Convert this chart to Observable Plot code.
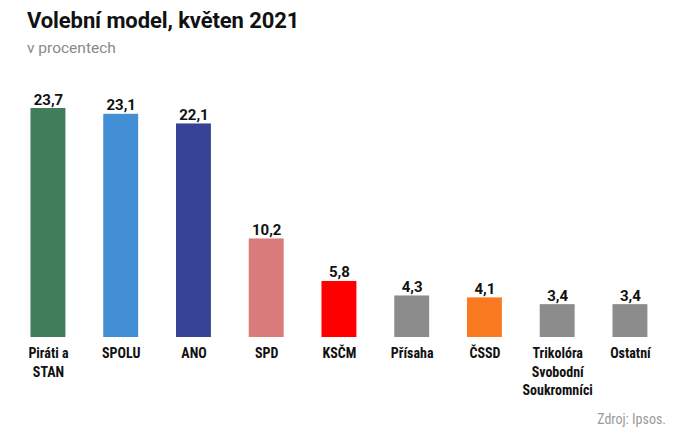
<!DOCTYPE html>
<html>
<head>
<meta charset="utf-8">
<script src="https://cdn.jsdelivr.net/npm/d3@7"></script>
<script src="https://cdn.jsdelivr.net/npm/@observablehq/plot@0.6"></script>
<style>
  html, body { margin: 0; padding: 0; background: #fff; width: 682px; height: 447px; overflow: hidden; }
  #title { position: absolute; left: 27px; top: 8px; font-family: Roboto, "Liberation Sans", sans-serif; font-weight: 700; font-size: 22px; color: #111; letter-spacing: -0.1px; }
  #subtitle { position: absolute; left: 27px; top: 39px; font-family: Roboto, "Liberation Sans", sans-serif; font-size: 15.5px; color: #8a8a8a; }
  #chart { position: absolute; left: 0; top: 62px; }
  #source { position: absolute; right: 16px; top: 411px; font-family: "Roboto Condensed", "Liberation Sans Narrow", "DejaVu Sans Condensed", sans-serif; font-size: 14px; color: #9a9a9a; }
</style>
</head>
<body>
<div id="title">Volební model, květen 2021</div>
<div id="subtitle">v procentech</div>
<div id="chart"></div>
<div id="source">Zdroj: Ipsos.</div>
<script>
const parties = ["Piráti a STAN", "SPOLU", "ANO", "SPD", "KSČM", "Přísaha", "ČSSD", "Trikolóra Svobodní Soukromníci", "Ostatní"];
const tickLabels = ["Piráti a\nSTAN", "SPOLU", "ANO", "SPD", "KSČM", "Přísaha", "ČSSD", "Trikolóra\nSvobodní\nSoukromníci", "Ostatní"];
const values = [23.7, 23.1, 22.1, 10.2, 5.8, 4.3, 4.1, 3.4, 3.4];
const colors = ["#417d5b", "#438fd5", "#374395", "#d97b7a", "#ff0000", "#8c8c8c", "#f97a20", "#8c8c8c", "#8c8c8c"];

const data = parties.map((p, i) => ({ party: p, value: values[i], color: colors[i], label: tickLabels[i] }));
const labelOf = new Map(parties.map((p, i) => [p, tickLabels[i]]));
const fmt = v => v.toFixed(1).replace(".", ",");

const chart = Plot.plot({
  width: 682,
  height: 340,
  marginTop: 46,
  marginBottom: 65,
  marginLeft: 30.5,
  marginRight: 34.6,
  x: { domain: parties, paddingInner: 0.52, paddingOuter: 0, round: false, label: null },
  y: { domain: [0, 23.7], axis: null },
  style: { background: "transparent" },
  marks: [
    Plot.barY(data, { x: "party", y: "value", fill: "color" }),
    Plot.text(data, {
      x: "party", y: "value", text: d => fmt(d.value),
      dy: -4, lineAnchor: "bottom", fontWeight: 700, fontSize: 15,
      fontFamily: "Roboto, 'Liberation Sans', sans-serif", fill: "#111"
    }),
    Plot.axisX({
      tickSize: 0, tickPadding: 8, tickFormat: d => labelOf.get(d),
      fontSize: 14, fontWeight: 700, lineHeight: 1.3,
      fontFamily: "'Roboto Condensed', 'Liberation Sans Narrow', 'DejaVu Sans Condensed', sans-serif",
      fill: "#111", label: null
    })
  ]
});
document.getElementById("chart").appendChild(chart);
</script>
</body>
</html>
